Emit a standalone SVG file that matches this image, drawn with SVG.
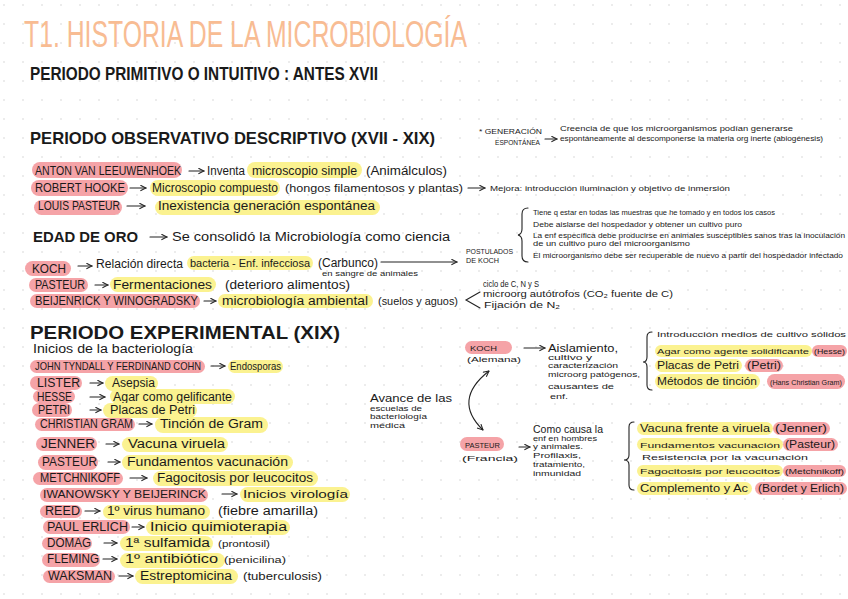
<svg xmlns="http://www.w3.org/2000/svg" width="848" height="599" viewBox="0 0 848 599">
<defs>
<pattern id="dots" width="19" height="19" patternUnits="userSpaceOnUse" x="3" y="4"><circle cx="1" cy="1" r="0.8" fill="#d4d4d4"/></pattern>
<marker id="ah" viewBox="0 0 10 10" refX="9" refY="5" markerWidth="7" markerHeight="7" markerUnits="userSpaceOnUse" orient="auto-start-reverse"><path d="M1,1 L9,5 L1,9" fill="none" stroke="#222" stroke-width="1.5"/></marker>
</defs>
<style>
text{font-family:"Liberation Sans",Arial,sans-serif;fill:#1a1a1a}
.n{font-size:12px}
.s{font-size:11px}
.xs{font-size:8px}
.h{font-weight:bold}
.pk{fill:#F5A3A7}
.yl{fill:#FBF290}
.ln{fill:none;stroke:#222;stroke-width:1.1;stroke-linecap:round}
.ar{fill:none;stroke:#222;stroke-width:1.1;stroke-linecap:round;marker-end:url(#ah)}
</style>
<rect width="848" height="599" fill="#ffffff"/>
<rect width="848" height="599" fill="url(#dots)"/>

<g id="title">
<text x="24" y="47" font-size="37" style="fill:#F8BC93" textLength="443" lengthAdjust="spacingAndGlyphs">T1. HISTORIA DE LA MICROBIOLOGÍA</text>
<text x="30" y="80" font-size="18" class="h" textLength="348" lengthAdjust="spacingAndGlyphs">PERIODO PRIMITIVO  O INTUITIVO : ANTES XVII</text>
</g>

<g id="observativo">
<text x="30" y="144" font-size="17" class="h" textLength="405" lengthAdjust="spacingAndGlyphs">PERIODO OBSERVATIVO DESCRIPTIVO (XVII - XIX)</text>
</g>

<g id="generacion">
<text x="479" y="134" class="xs" textLength="63" lengthAdjust="spacingAndGlyphs">* GENERACIÓN</text>
<text x="495" y="145" class="xs" textLength="45" lengthAdjust="spacingAndGlyphs">ESPONTÁNEA</text>
<text x="560" y="131" class="xs" textLength="233" lengthAdjust="spacingAndGlyphs">Creencia de que los microorganismos podían generarse</text>
<text x="560" y="141" class="xs" textLength="263" lengthAdjust="spacingAndGlyphs">espontáneamente al descomponerse la materia org inerte (abiogénesis)</text>
</g>

<g id="leeuwenhoek">
<rect class="pk" x="32" y="162" width="150" height="16" rx="8"/>
<rect class="yl" x="247" y="162" width="115" height="16" rx="8"/>
<text x="35" y="175" class="n" textLength="146" lengthAdjust="spacingAndGlyphs">ANTON VAN LEEUWENHOEK</text>
<text x="207" y="175" class="n" textLength="38" lengthAdjust="spacingAndGlyphs">Inventa</text>
<text x="252" y="175" class="n" textLength="105" lengthAdjust="spacingAndGlyphs">microscopio simple</text>
<text x="366" y="175" class="n" textLength="81" lengthAdjust="spacingAndGlyphs">(Animálculos)</text>
</g>

<g id="hooke">
<rect class="pk" x="31" y="180" width="97" height="16" rx="8"/>
<rect class="yl" x="150" y="180" width="130" height="16" rx="8"/>
<text x="35" y="192" class="n" textLength="90" lengthAdjust="spacingAndGlyphs">ROBERT HOOKE</text>
<text x="152" y="192" class="n" textLength="126" lengthAdjust="spacingAndGlyphs">Microscopio compuesto</text>
<text x="285" y="192" class="s" textLength="178" lengthAdjust="spacingAndGlyphs">(hongos filamentosos y plantas)</text>
<text x="490" y="191" class="xs" textLength="240" lengthAdjust="spacingAndGlyphs">Mejora: introducción iluminación y objetivo de inmersión</text>
</g>

<g id="pasteur1">
<rect class="pk" x="34" y="200" width="88" height="15" rx="7.5"/>
<rect class="yl" x="155" y="200" width="225" height="15" rx="7.5"/>
<text x="38" y="210" class="n" textLength="82" lengthAdjust="spacingAndGlyphs">LOUIS PASTEUR</text>
<text x="158" y="210" class="n" textLength="217" lengthAdjust="spacingAndGlyphs">Inexistencia generación espontánea</text>
</g>

<g id="edad-de-oro">
<text x="33" y="242" font-size="14" class="h" textLength="105" lengthAdjust="spacingAndGlyphs">EDAD DE ORO</text>
<text x="172" y="241" class="n" textLength="278" lengthAdjust="spacingAndGlyphs">Se consolidó la Microbiología como ciencia</text>
</g>

<g id="koch1">
<rect class="pk" x="25" y="261" width="46" height="15" rx="7.5"/>
<rect class="yl" x="187" y="256" width="126" height="14" rx="7"/>
<text x="32" y="273" class="n" textLength="34" lengthAdjust="spacingAndGlyphs">KOCH</text>
<text x="96" y="268" class="n" textLength="87" lengthAdjust="spacingAndGlyphs">Relación directa</text>
<text x="190" y="267" class="s" textLength="120" lengthAdjust="spacingAndGlyphs">bacteria - Enf. infecciosa</text>
<text x="318" y="267" class="n" textLength="60" lengthAdjust="spacingAndGlyphs">(Carbunco)</text>
<text x="322" y="276" class="xs" textLength="96" lengthAdjust="spacingAndGlyphs">en sangre de animales</text>
</g>

<g id="postulados">
<text x="466" y="254" class="xs" textLength="47" lengthAdjust="spacingAndGlyphs">POSTULADOS</text>
<text x="466" y="263" class="xs" textLength="33" lengthAdjust="spacingAndGlyphs">DE KOCH</text>
<text x="533" y="215" class="xs" textLength="242" lengthAdjust="spacingAndGlyphs">Tiene q estar en todas las muestras que he tomado y en todos los casos</text>
<text x="533" y="227" class="xs" textLength="209" lengthAdjust="spacingAndGlyphs">Debe aislarse del hospedador y obtener un cultivo puro</text>
<text x="533" y="238" class="xs" textLength="312" lengthAdjust="spacingAndGlyphs">La enf específica debe producirse en animales susceptibles sanos tras la inoculación</text>
<text x="533" y="246" class="xs" textLength="157" lengthAdjust="spacingAndGlyphs">de un cultivo puro del microorganismo</text>
<text x="533" y="258" class="xs" textLength="310" lengthAdjust="spacingAndGlyphs">El microorganismo debe ser recuperable de nuevo a partir del hospedador infectado</text>
</g>

<g id="pasteur2">
<rect class="pk" x="29" y="278" width="59" height="14" rx="7"/>
<rect class="yl" x="110" y="277" width="106" height="15" rx="7.5"/>
<text x="35" y="289" class="n" textLength="50" lengthAdjust="spacingAndGlyphs">PASTEUR</text>
<text x="113" y="289" class="n" textLength="99" lengthAdjust="spacingAndGlyphs">Fermentaciones</text>
<text x="225" y="289" class="n" textLength="125" lengthAdjust="spacingAndGlyphs">(deterioro alimentos)</text>
</g>

<g id="beijerinck">
<rect class="pk" x="30" y="294" width="170" height="14" rx="7"/>
<rect class="yl" x="218" y="294" width="155" height="14" rx="7"/>
<text x="35" y="305" class="n" textLength="163" lengthAdjust="spacingAndGlyphs">BEIJENRICK Y WINOGRADSKY</text>
<text x="222" y="305" class="n" textLength="146" lengthAdjust="spacingAndGlyphs">microbiología ambiental</text>
<text x="378" y="305" class="s" textLength="80" lengthAdjust="spacingAndGlyphs">(suelos y aguos)</text>
<text x="483" y="287" font-size="9" textLength="56" lengthAdjust="spacingAndGlyphs">ciclo de C, N y S</text>
<text x="483" y="297" font-size="9.5" textLength="190" lengthAdjust="spacingAndGlyphs">microorg autótrofos (CO₂ fuente de C)</text>
<text x="484" y="308" font-size="9" textLength="76" lengthAdjust="spacingAndGlyphs">Fijación de N₂</text>
</g>

<g id="experimental">
<text x="30" y="339" font-size="19" class="h" textLength="310" lengthAdjust="spacingAndGlyphs">PERIODO EXPERIMENTAL (XIX)</text>
<text x="33" y="353" class="n" textLength="160" lengthAdjust="spacingAndGlyphs">Inicios de la bacteriología</text>
</g>

<g id="tyndall">
<rect class="pk" x="30" y="360" width="175" height="13" rx="6.5"/>
<rect class="yl" x="228" y="360" width="55" height="13" rx="6.5"/>
<text x="35" y="370" class="s" textLength="166" lengthAdjust="spacingAndGlyphs">JOHN TYNDALL Y FERDINAND COHN</text>
<text x="230" y="370" class="s" textLength="51" lengthAdjust="spacingAndGlyphs">Endosporas</text>
</g>
<g id="lister">
<rect class="pk" x="30" y="376" width="52" height="14" rx="7"/>
<rect class="yl" x="105" y="376" width="53" height="15" rx="7.5"/>
<text x="37" y="387" class="n" textLength="43" lengthAdjust="spacingAndGlyphs">LISTER</text>
<text x="112" y="387" class="n" textLength="43" lengthAdjust="spacingAndGlyphs">Asepsia</text>
</g>
<g id="hesse">
<rect class="pk" x="33" y="390" width="42" height="13" rx="6.5"/>
<rect class="yl" x="110" y="389" width="125" height="15" rx="7.5"/>
<text x="37" y="401" class="n" textLength="35" lengthAdjust="spacingAndGlyphs">HESSE</text>
<text x="113" y="401" class="n" textLength="119" lengthAdjust="spacingAndGlyphs">Agar como gelificante</text>
</g>
<g id="petri">
<rect class="pk" x="32" y="403" width="40" height="14" rx="7"/>
<rect class="yl" x="103" y="403" width="94" height="15" rx="7.5"/>
<text x="38" y="414" class="n" textLength="32" lengthAdjust="spacingAndGlyphs">PETRI</text>
<text x="110" y="414" class="n" textLength="85" lengthAdjust="spacingAndGlyphs">Placas de Petri</text>
</g>
<g id="gram">
<rect class="pk" x="35" y="418" width="100" height="13" rx="6.5"/>
<rect class="yl" x="155" y="417" width="113" height="16" rx="8"/>
<text x="40" y="428" class="n" textLength="93" lengthAdjust="spacingAndGlyphs">CHRISTIAN GRAM</text>
<text x="160" y="428" class="n" textLength="103" lengthAdjust="spacingAndGlyphs">Tinción de Gram</text>
</g>
<g id="jenner">
<rect class="pk" x="36" y="437" width="61" height="14" rx="7"/>
<rect class="yl" x="122" y="437" width="106" height="15" rx="7.5"/>
<text x="41" y="448" class="n" textLength="54" lengthAdjust="spacingAndGlyphs">JENNER</text>
<text x="128" y="448" class="n" textLength="97" lengthAdjust="spacingAndGlyphs">Vacuna viruela</text>
</g>
<g id="pasteur3">
<rect class="pk" x="38" y="455" width="60" height="15" rx="7.5"/>
<rect class="yl" x="122" y="455" width="171" height="15" rx="7.5"/>
<text x="42" y="466" class="n" textLength="55" lengthAdjust="spacingAndGlyphs">PASTEUR</text>
<text x="127" y="466" class="n" textLength="161" lengthAdjust="spacingAndGlyphs">Fundamentos vacunación</text>
</g>
<g id="metchnikoff">
<rect class="pk" x="33" y="472" width="90" height="13" rx="6.5"/>
<rect class="yl" x="153" y="471" width="165" height="15" rx="7.5"/>
<text x="40" y="482" class="n" textLength="80" lengthAdjust="spacingAndGlyphs">METCHNIKOFF</text>
<text x="157" y="482" class="n" textLength="156" lengthAdjust="spacingAndGlyphs">Fagocitosis por leucocitos</text>
</g>
<g id="iwanowsky">
<rect class="pk" x="40" y="488" width="168" height="14" rx="7"/>
<rect class="yl" x="240" y="487" width="110" height="15" rx="7.5"/>
<text x="43" y="498" class="s" textLength="163" lengthAdjust="spacingAndGlyphs">IWANOWSKY Y BEIJERINCK</text>
<text x="243" y="498" class="s" textLength="105" lengthAdjust="spacingAndGlyphs">Inicios virología</text>
</g>
<g id="reed">
<rect class="pk" x="40" y="505" width="42" height="13" rx="6.5"/>
<rect class="yl" x="103" y="505" width="107" height="14" rx="7"/>
<text x="45" y="515" class="n" textLength="35" lengthAdjust="spacingAndGlyphs">REED</text>
<text x="107" y="515" class="n" textLength="98" lengthAdjust="spacingAndGlyphs">1º virus humano</text>
<text x="218" y="515" class="n" textLength="100" lengthAdjust="spacingAndGlyphs">(fiebre amarilla)</text>
</g>
<g id="erlich">
<rect class="pk" x="43" y="520" width="87" height="14" rx="7"/>
<rect class="yl" x="146" y="520" width="144" height="15" rx="7.5"/>
<text x="47" y="531" class="n" textLength="81" lengthAdjust="spacingAndGlyphs">PAUL ERLICH</text>
<text x="150" y="531" class="n" textLength="137" lengthAdjust="spacingAndGlyphs">Inicio quimioterapia</text>
</g>
<g id="domag">
<rect class="pk" x="42" y="537" width="50" height="13" rx="6.5"/>
<rect class="yl" x="120" y="536" width="93" height="15" rx="7.5"/>
<text x="47" y="547" class="n" textLength="44" lengthAdjust="spacingAndGlyphs">DOMAG</text>
<text x="125" y="547" class="n" textLength="85" lengthAdjust="spacingAndGlyphs">1ª sulfamida</text>
<text x="218" y="547" font-size="9" textLength="52" lengthAdjust="spacingAndGlyphs">(prontosil)</text>
</g>
<g id="fleming">
<rect class="pk" x="42" y="553" width="58" height="14" rx="7"/>
<rect class="yl" x="120" y="553" width="105" height="15" rx="7.5"/>
<text x="47" y="563" class="n" textLength="52" lengthAdjust="spacingAndGlyphs">FLEMING</text>
<text x="125" y="563" class="n" textLength="93" lengthAdjust="spacingAndGlyphs">1º antibiótico</text>
<text x="224" y="563" font-size="9" textLength="62" lengthAdjust="spacingAndGlyphs">(penicilina)</text>
</g>
<g id="waksman">
<rect class="pk" x="43" y="570" width="72" height="13" rx="6.5"/>
<rect class="yl" x="135" y="569" width="103" height="15" rx="7.5"/>
<text x="48" y="580" class="n" textLength="64" lengthAdjust="spacingAndGlyphs">WAKSMAN</text>
<text x="140" y="580" class="n" textLength="92" lengthAdjust="spacingAndGlyphs">Estreptomicina</text>
<text x="243" y="580" class="s" textLength="79" lengthAdjust="spacingAndGlyphs">(tuberculosis)</text>
</g>

<g id="avance">
<text x="370" y="402" class="s" textLength="82" lengthAdjust="spacingAndGlyphs">Avance de las</text>
<text x="370" y="411" class="xs" textLength="52" lengthAdjust="spacingAndGlyphs">escuelas de</text>
<text x="370" y="419" class="xs" textLength="57" lengthAdjust="spacingAndGlyphs">bacteriología</text>
<text x="370" y="428" class="xs" textLength="35" lengthAdjust="spacingAndGlyphs">médica</text>
</g>

<g id="koch2">
<rect class="pk" x="465" y="341" width="47" height="13" rx="6.5"/>
<text x="470" y="351" class="xs" textLength="27" lengthAdjust="spacingAndGlyphs">KOCH</text>
<text x="467" y="362" class="xs" textLength="54" lengthAdjust="spacingAndGlyphs">(Alemana)</text>
<text x="548" y="352" class="s" textLength="70" lengthAdjust="spacingAndGlyphs">Aislamiento,</text>
<text x="548" y="360" class="xs" textLength="44" lengthAdjust="spacingAndGlyphs">cultivo y</text>
<text x="548" y="368" class="xs" textLength="70" lengthAdjust="spacingAndGlyphs">caracterización</text>
<text x="548" y="377" class="xs" textLength="92" lengthAdjust="spacingAndGlyphs">microorg patógenos,</text>
<text x="548" y="389" class="xs" textLength="66" lengthAdjust="spacingAndGlyphs">causantes de</text>
<text x="550" y="399" class="xs" textLength="18" lengthAdjust="spacingAndGlyphs">enf.</text>
</g>

<g id="koch-aportes">
<rect class="yl" x="655" y="345" width="157" height="12" rx="6"/>
<rect class="pk" x="812" y="345" width="35" height="12" rx="6"/>
<rect class="yl" x="655" y="359" width="87" height="13" rx="6.5"/>
<rect class="pk" x="745" y="359" width="38" height="13" rx="6.5"/>
<rect class="yl" x="655" y="374" width="105" height="15" rx="7.5"/>
<rect class="pk" x="767" y="374" width="78" height="15" rx="7.5"/>
<text x="657" y="337" class="xs" textLength="189" lengthAdjust="spacingAndGlyphs">Introducción medios de cultivo sólidos</text>
<text x="657" y="354" class="xs" textLength="152" lengthAdjust="spacingAndGlyphs">Agar como agente solidificante</text>
<text x="814" y="354" class="xs" textLength="31" lengthAdjust="spacingAndGlyphs">(Hesse)</text>
<text x="657" y="369" class="s" textLength="82" lengthAdjust="spacingAndGlyphs">Placas de Petri</text>
<text x="747" y="369" class="s" textLength="34" lengthAdjust="spacingAndGlyphs">(Petri)</text>
<text x="657" y="385" class="s" textLength="100" lengthAdjust="spacingAndGlyphs">Métodos de tinción</text>
<text x="770" y="385" font-size="7" textLength="72" lengthAdjust="spacingAndGlyphs">(Hans Christian Gram)</text>
</g>

<g id="pasteur4">
<rect class="pk" x="460" y="437" width="44" height="14" rx="7"/>
<text x="465" y="448" class="xs" textLength="35" lengthAdjust="spacingAndGlyphs">PASTEUR</text>
<text x="462" y="461" class="xs" textLength="56" lengthAdjust="spacingAndGlyphs">(Francia)</text>
<text x="533" y="433" class="s" textLength="70" lengthAdjust="spacingAndGlyphs">Como causa la</text>
<text x="533" y="441" class="xs" textLength="64" lengthAdjust="spacingAndGlyphs">enf en hombres</text>
<text x="533" y="449" class="xs" textLength="50" lengthAdjust="spacingAndGlyphs">y animales.</text>
<text x="533" y="458" class="xs" textLength="48" lengthAdjust="spacingAndGlyphs">Profilaxis,</text>
<text x="533" y="467" class="xs" textLength="52" lengthAdjust="spacingAndGlyphs">tratamiento,</text>
<text x="533" y="476" class="xs" textLength="48" lengthAdjust="spacingAndGlyphs">inmunidad</text>
</g>

<g id="pasteur-aportes">
<rect class="yl" x="637" y="422" width="136" height="13" rx="6.5"/>
<rect class="pk" x="773" y="422" width="57" height="13" rx="6.5"/>
<rect class="yl" x="637" y="438" width="146" height="13" rx="6.5"/>
<rect class="pk" x="783" y="438" width="55" height="13" rx="6.5"/>
<rect class="yl" x="637" y="465" width="146" height="12" rx="6"/>
<rect class="pk" x="783" y="465" width="63" height="12" rx="6"/>
<rect class="yl" x="637" y="482" width="115" height="13" rx="6.5"/>
<rect class="pk" x="755" y="482" width="92" height="13" rx="6.5"/>
<text x="640" y="432" class="s" textLength="130" lengthAdjust="spacingAndGlyphs">Vacuna frente a viruela</text>
<text x="775" y="432" class="s" textLength="52" lengthAdjust="spacingAndGlyphs">(Jenner)</text>
<text x="640" y="448" class="xs" textLength="140" lengthAdjust="spacingAndGlyphs">Fundamentos vacunación</text>
<text x="785" y="448" class="s" textLength="50" lengthAdjust="spacingAndGlyphs">(Pasteur)</text>
<text x="642" y="460" class="xs" textLength="166" lengthAdjust="spacingAndGlyphs">Resistencia por la vacunación</text>
<text x="640" y="474" class="xs" textLength="140" lengthAdjust="spacingAndGlyphs">Fagocitosis por leucocitos</text>
<text x="785" y="474" class="xs" textLength="59" lengthAdjust="spacingAndGlyphs">(Metchnikoff)</text>
<text x="640" y="492" class="s" textLength="108" lengthAdjust="spacingAndGlyphs">Complemento y Ac</text>
<text x="758" y="492" class="s" textLength="86" lengthAdjust="spacingAndGlyphs">(Bordet y Erlich)</text>
</g>

<g id="connectors">
<path class="ar" d="M545,139 L557,139"/>
<path class="ar" d="M189,171 L204,171"/>
<path class="ar" d="M130,188 L146,188"/>
<path class="ar" d="M468,188 L485,188"/>
<path class="ar" d="M127,206 L145,206"/>
<path class="ar" d="M150,237 L167,237"/>
<path class="ar" d="M78,266 L92,266"/>
<path class="ar" d="M95,285 L108,285"/>
<path class="ar" d="M204,301 L216,301"/>
<path class="ar" d="M211,366 L225,366"/>
<path class="ar" d="M90,383 L103,383"/>
<path class="ar" d="M90,397 L105,397"/>
<path class="ar" d="M90,410 L101,410"/>
<path class="ar" d="M139,424 L152,424"/>
<path class="ar" d="M106,444 L119,444"/>
<path class="ar" d="M108,462 L120,462"/>
<path class="ar" d="M130,478 L147,478"/>
<path class="ar" d="M222,494 L237,494"/>
<path class="ar" d="M85,511 L100,511"/>
<path class="ar" d="M132,527 L144,527"/>
<path class="ar" d="M104,543 L117,543"/>
<path class="ar" d="M103,559 L117,559"/>
<path class="ar" d="M119,576 L133,576"/>
<path class="ar" d="M381,262 L457,262"/>
<path class="ln" d="M528,208 Q522,208 522,214 L522,229 Q522,234 518,235 Q522,236 522,241 L522,256 Q522,262 528,262"/>
<path class="ln" d="M480,292 L466,300 L480,308"/>
<path class="ln" d="M489,371 Q452,400 483,430" marker-start="url(#ah)" marker-end="url(#ah)"/>
<path class="ar" d="M524,348 L545,348"/>
<path class="ar" d="M519,447 L530,447"/>
<path class="ln" d="M652,332 Q647,332 647,337 L647,357 Q647,362 643,362 Q647,362 647,367 L647,385 Q647,390 652,390"/>
<path class="ln" d="M634,422 Q629,422 629,427 L629,455 Q629,460 624,460 Q629,460 629,465 L629,485 Q629,490 634,490"/>
</g>
</svg>
